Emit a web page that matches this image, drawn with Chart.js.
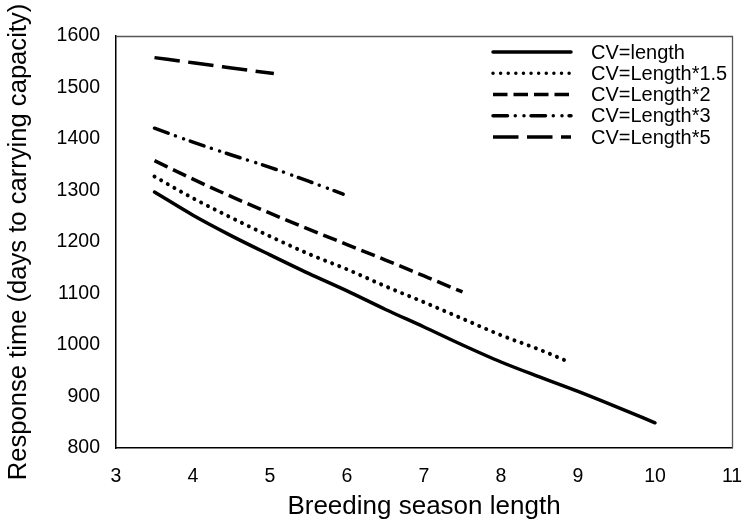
<!DOCTYPE html>
<html>
<head>
<meta charset="utf-8">
<script src="https://cdn.jsdelivr.net/npm/chart.js@4.4.0/dist/chart.umd.min.js"></script>
<style>
  html, body { margin: 0; padding: 0; background: #fff; }
  #wrap { width: 743px; height: 522px; }
</style>
</head>
<body>
<div id="wrap"><canvas id="respChart"></canvas></div>
<script>
// series labels
var seriesNames = ["CV=length", "CV=Length*1.5", "CV=Length*2", "CV=Length*3", "CV=Length*5"];

// breeding season length (x) for each curve
var xLen1 = [3.5, 4, 4.5, 5, 5.5, 6, 6.5, 7, 7.5, 8, 8.5, 9, 9.5, 10];
var xLen15 = [3.5, 4, 4.5, 5, 5.5, 6, 6.5, 7, 7.5, 8, 8.5, 8.9];
var xLen2 = [3.5, 4, 4.5, 5, 5.5, 6, 6.5, 7, 7.5];
var xLen3 = [3.5, 4, 4.5, 5, 5.5, 5.95];
var xLen5 = [3.5, 4, 4.5, 5.05];

// response time (days)
var yLen1 = [1297, 1252, 1212, 1175, 1139, 1105, 1069, 1035, 1000, 967, 938, 910, 880, 849];
var yLen15 = [1327, 1285, 1247, 1211, 1177, 1147, 1114, 1083, 1051, 1019, 991, 966];
var yLen2 = [1358, 1322, 1288, 1256, 1225, 1195, 1165, 1134, 1103];
var yLen3 = [1421, 1394, 1369, 1345, 1318, 1293];
var yLen5 = [1558, 1548, 1538, 1527];

var xTicks = [3, 4, 5, 6, 7, 8, 9, 10, 11];
var yTicks = [800, 900, 1000, 1100, 1200, 1300, 1400, 1500, 1600];

function pts(xs, ys) {
  return xs.map(function (x, i) { return { x: x, y: ys[i] }; });
}

var FONT = "'Liberation Sans', Arial, sans-serif";
var dashes = [[], [0.01, 7.6], [14.5, 6], [14.5, 7.75, 0.01, 8.7, 0.01, 7.05], [25.5, 8.5]];
var caps = ["round", "round", "butt", "round", "butt"];
var allX = [xLen1, xLen15, xLen2, xLen3, xLen5];
var allY = [yLen1, yLen15, yLen2, yLen3, yLen5];

var datasets = seriesNames.map(function (name, i) {
  return {
    label: name,
    data: pts(allX[i], allY[i]),
    borderColor: "#000",
    borderWidth: i == 1 ? 4 : 3.5,
    borderDash: dashes[i],
    borderCapStyle: caps[i],
    pointRadius: 0,
    fill: false,
    showLine: true,
    cubicInterpolationMode: "monotone"
  };
});

// legend drawn inside the plot, top right, plus the thin top/right frame
var insideLegend = {
  id: "insideLegend",
  afterDraw: function (chart) {
    var ctx = chart.ctx;
    ctx.save();
    chart.data.datasets.forEach(function (ds, i) {
      var y = 52 + i * 21.25;
      ctx.beginPath();
      ctx.strokeStyle = "#000";
      ctx.lineWidth = 3.5;
      ctx.lineCap = ds.borderCapStyle;
      ctx.setLineDash(ds.borderDash);
      ctx.moveTo(493, y);
      ctx.lineTo(571, y);
      ctx.stroke();
      ctx.setLineDash([]);
      ctx.fillStyle = "#000";
      ctx.font = "20px " + FONT;
      ctx.textBaseline = "middle";
      ctx.textAlign = "left";
      ctx.fillText(ds.label, 591, y + 1);
    });
    var a = chart.chartArea;
    ctx.beginPath();
    ctx.strokeStyle = "#555";
    ctx.lineWidth = 1.3;
    ctx.lineCap = "butt";
    ctx.moveTo(a.left, a.top + 0.5);
    ctx.lineTo(a.right + 0.5, a.top + 0.5);
    ctx.lineTo(a.right + 0.5, a.bottom);
    ctx.stroke();
    ctx.restore();
  }
};

var config = {
  type: "scatter",
  data: { datasets: datasets },
  options: {
    responsive: true,
    maintainAspectRatio: false,
    animation: false,
    layout: { padding: { top: 36, right: 11, left: 0, bottom: 0 } },
    plugins: { legend: { display: false }, tooltip: { enabled: false } },
    scales: {
      x: {
        type: "linear",
        min: 3,
        max: 11,
        afterBuildTicks: function (s) { s.ticks = xTicks.map(function (v) { return { value: v }; }); },
        afterFit: function (s) { s.height = 74; s.paddingLeft = 0; s.paddingRight = 0; },
        grid: { display: false, drawTicks: true, tickLength: 6, tickColor: "#000", tickWidth: 1.5 },
        border: { color: "#000", width: 1.5 },
        ticks: {
          color: "#000", font: { family: FONT, size: 19.5 }, padding: 11, maxRotation: 0,
          callback: function (v) { return String(v); }
        },
        title: { display: true, text: "Breeding season length", color: "#000", font: { family: FONT, size: 26 }, padding: { top: 0, bottom: 0 } }
      },
      y: {
        min: 800,
        max: 1600,
        afterBuildTicks: function (s) { s.ticks = yTicks.map(function (v) { return { value: v }; }); },
        afterFit: function (s) { s.width = 116; s.paddingTop = 0; s.paddingBottom = 0; },
        grid: { display: false, drawTicks: true, tickLength: 6, tickColor: "#000", tickWidth: 1.5 },
        border: { color: "#000", width: 1.5 },
        ticks: {
          color: "#000", font: { family: FONT, size: 19.5 }, padding: 10,
          callback: function (v) { return String(v); }
        },
        title: { display: true, text: "Response time (days to carrying capacity)", color: "#000", font: { family: FONT, size: 25.6 }, padding: { top: 4, bottom: 0 } }
      }
    }
  },
  plugins: [insideLegend]
};

var respChart = new Chart(document.getElementById("respChart"), config);
</script>
</body>
</html>
